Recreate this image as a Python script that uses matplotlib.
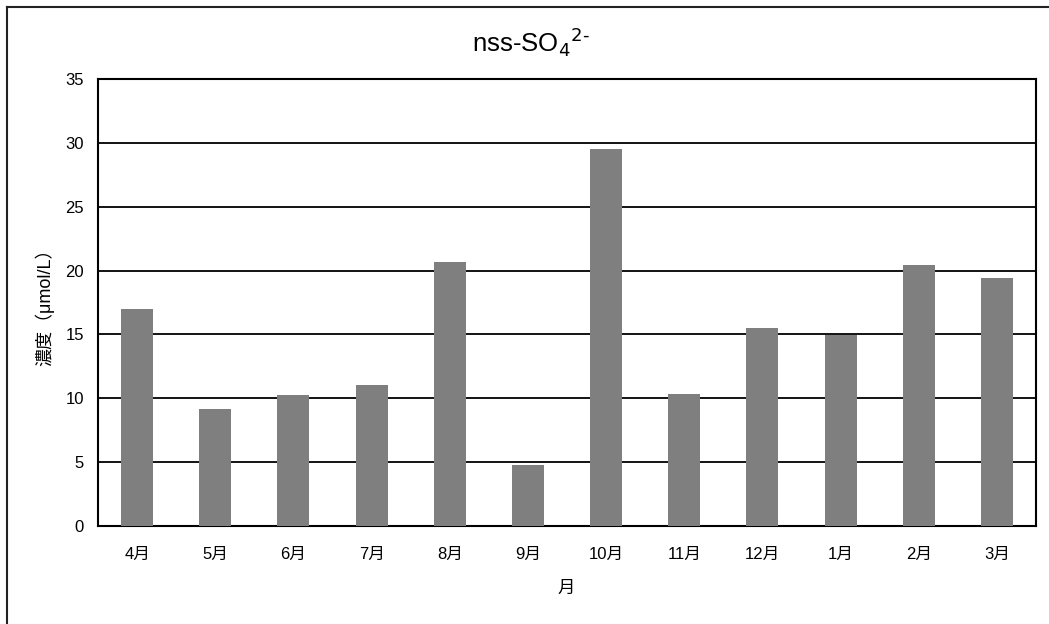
import matplotlib
matplotlib.use('Agg')
import matplotlib.pyplot as plt
from matplotlib.lines import Line2D

plt.rcParams['font.family'] = ['Liberation Sans', 'Noto Sans CJK JP', 'DejaVu Sans']

months = ['4月', '5月', '6月', '7月', '8月', '9月', '10月', '11月', '12月', '1月', '2月', '3月']
values = [17.0, 9.15, 10.25, 11.05, 20.7, 4.75, 29.5, 10.35, 15.5, 14.95, 20.4, 19.4]

W, H = 1049, 624
fig = plt.figure(figsize=(W / 100, H / 100), dpi=100)
ax = fig.add_axes([98 / W, 1 - 526 / H, (1036 - 98) / W, (526 - 79) / H])

x = range(len(months))
ax.bar(x, values, width=0.41, color='#7f7f7f', zorder=3)

ax.set_xlim(-0.5, len(months) - 0.5)
ax.set_ylim(0, 35)
ax.set_yticks(range(0, 36, 5))
ax.set_xticks(list(x))
ax.set_xticklabels(months)
ax.yaxis.grid(True, color='black', linewidth=1.3, zorder=1)
ax.tick_params(axis='both', length=0, labelsize=12, colors='black')
ax.tick_params(axis='x', pad=15)
ax.tick_params(axis='y', pad=10)
for s in ax.spines.values():
    s.set_linewidth(1.5)
    s.set_color('black')

# axis titles placed in pixel positions like the original chart
fig.text(566 / W, 1 - 588 / H, '月', fontsize=12.5, ha='center', va='center')
fig.text(45 / W, 1 - 303 / H, '濃度（μmol/L）', fontsize=13,
         rotation=90, ha='center', va='center')
fig.text(531 / W, 1 - 42 / H, 'nss-SO$_4$$^{2\\text{-}}$', fontsize=18.5, ha='center', va='center')

# outer chart frame (left and top edges visible)
fig.add_artist(Line2D([6.5 / W, 6.5 / W], [0, 1 - 6.5 / H], transform=fig.transFigure, color='#222222', linewidth=1.5))
fig.add_artist(Line2D([6.5 / W, 1], [1 - 6.5 / H, 1 - 6.5 / H], transform=fig.transFigure, color='#222222', linewidth=1.5))

fig.savefig('out.png', dpi=100)
